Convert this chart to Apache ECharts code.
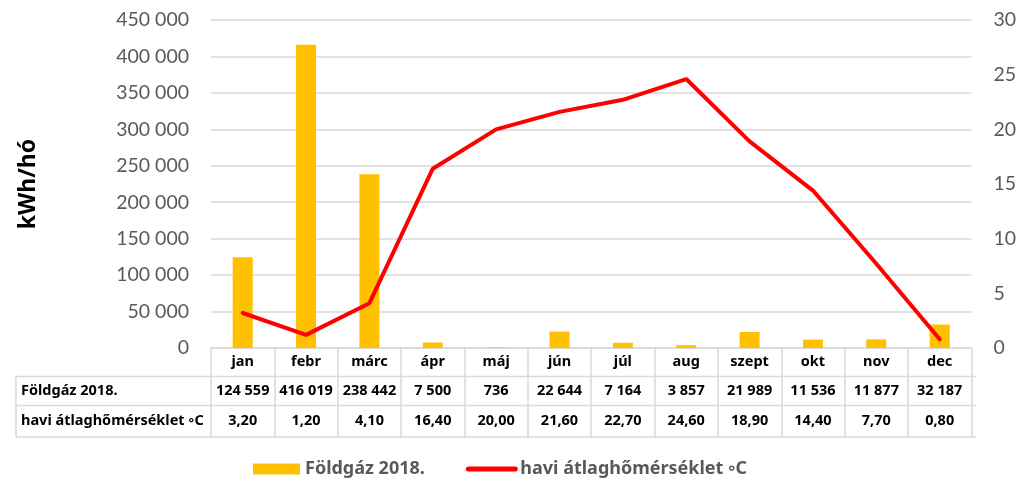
<!DOCTYPE html>
<html><head><meta charset="utf-8">
<script src="https://cdn.jsdelivr.net/npm/echarts@6/dist/echarts.min.js"></script>
<style>html,body{margin:0;padding:0;background:#fff}#c{width:1019px;height:481px}</style>
</head><body><div id="c"></div>
<script>
const months = ['jan','febr','márc','ápr','máj','jún','júl','aug','szept','okt','nov','dec'];
const gas = [124559, 416019, 238442, 7500, 736, 22644, 7164, 3857, 21989, 11536, 11877, 32187];
const temp = [3.2, 1.2, 4.1, 16.4, 20.0, 21.6, 22.7, 24.6, 18.9, 14.4, 7.7, 0.8];
const gasName = 'Földgáz 2018.';
const tempName = 'havi átlaghőmérséklet ◦C';
const yName = 'kWh/hó';

const F = 'Lato, "Open Sans", sans-serif';
const FB = '"Noto Sans", Lato, sans-serif';
const fmtNum = v => String(Math.round(v)).replace(/\B(?=(\d{3})+(?!\d))/g, ' ');
const fmtTemp = v => v.toFixed(2).replace('.', ',');

const cell = {fontFamily: FB, fontWeight: 'bold', fontSize: 14.5, color: '#000'};
const chart = echarts.init(document.getElementById('c'));
chart.setOption({
  animation: false,
  textStyle: {fontFamily: F},
  grid: {left: 211, right: 43, top: 20, bottom: 133},
  legend: {
    top: 460, left: 253, padding: 0, itemGap: 41, itemWidth: 47, itemHeight: 11,
    textStyle: {fontFamily: FB, fontWeight: 'bold', fontSize: 18, color: '#595959'},
    data: [
      {name: gasName, icon: 'rect'},
      {name: tempName, itemStyle: {opacity: 0}, lineStyle: {width: 5, cap: 'round', color: '#ff0000'}}
    ]
  },
  xAxis: {
    type: 'category', data: months,
    axisLine: {lineStyle: {color: '#d9d9d9', width: 1.5}},
    axisTick: {show: true, length: 89, lineStyle: {color: '#d9d9d9', width: 1.5}},
    axisLabel: {
      margin: 0, interval: 0,
      formatter: (v, i) => '{a|' + v + '}\n{b|' + fmtNum(gas[i]) + '}\n{c|' + fmtTemp(temp[i]) + '}',
      rich: {
        a: Object.assign({lineHeight: 28}, cell),
        b: Object.assign({lineHeight: 29}, cell),
        c: Object.assign({lineHeight: 31}, cell)
      }
    }
  },
  yAxis: [{
    type: 'value', min: 0, max: 450000, interval: 50000,
    name: yName, nameLocation: 'middle', nameGap: 171, nameRotate: 90,
    nameTextStyle: {fontFamily: FB, fontWeight: 'bold', fontSize: 23, color: '#000'},
    axisLine: {show: false}, axisTick: {show: false},
    axisLabel: {margin: 22, fontSize: 19.5, color: '#595959', formatter: fmtNum},
    splitLine: {lineStyle: {color: '#d9d9d9', width: 1.5}}
  }, {
    type: 'value', min: 0, max: 30, interval: 5, position: 'right',
    axisLine: {show: false}, axisTick: {show: false},
    axisLabel: {margin: 22, fontSize: 19.5, color: '#595959'},
    splitLine: {show: false}
  }],
  series: [{
    name: gasName, type: 'bar', data: gas, barWidth: 20,
    itemStyle: {color: '#ffc000'}, z: 2
  }, {
    name: tempName, type: 'line', yAxisIndex: 1, data: temp,
    symbol: 'none', lineStyle: {color: '#ff0000', width: 4, cap: 'round'}, itemStyle: {color: '#ff0000'}, z: 3
  }],
  graphic: [
    {type: 'line', shape: {x1: 16, y1: 376.5, x2: 976, y2: 376.5}, style: {stroke: '#d9d9d9', lineWidth: 1.5}},
    {type: 'line', shape: {x1: 16, y1: 405.5, x2: 976, y2: 405.5}, style: {stroke: '#d9d9d9', lineWidth: 1.5}},
    {type: 'line', shape: {x1: 16, y1: 437, x2: 976, y2: 437}, style: {stroke: '#d9d9d9', lineWidth: 1.5}},
    {type: 'line', shape: {x1: 16, y1: 376.5, x2: 16, y2: 437}, style: {stroke: '#d9d9d9', lineWidth: 1.5}},
    {type: 'text', x: 21, y: 391, style: {text: gasName, verticalAlign: 'middle', fontFamily: FB, fontWeight: 'bold', fontSize: 14.5, fill: '#000'}},
    {type: 'text', x: 21, y: 421, style: {text: tempName, verticalAlign: 'middle', fontFamily: FB, fontWeight: 'bold', fontSize: 14.5, fill: '#000'}}
  ]
});
</script>
</body></html>
